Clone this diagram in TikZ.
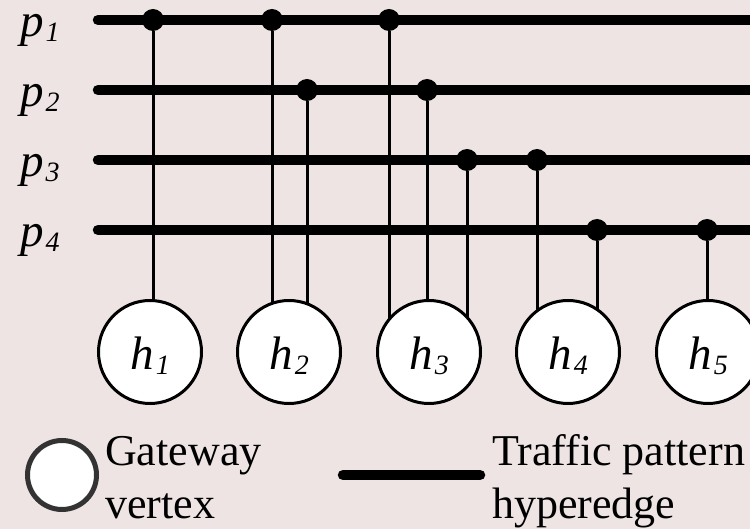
\documentclass[tikz,border=0pt]{standalone}
\usepackage{fontspec}
\setmainfont{Liberation Serif}
\definecolor{bg}{RGB}{238,228,228}
\definecolor{ringgray}{RGB}{51,51,51}
\newcommand\symlab[2]{{\fontsize{47}{47}\selectfont\itshape #1\kern2pt\raisebox{-5pt}{\fontsize{28}{28}\selectfont #2}}}
\begin{document}
\begin{tikzpicture}[x=1pt,y=-1pt,
  hyper/.style={line width=10.5pt, line cap=round},
  wire/.style={line width=3pt},
  joint/.style={circle, fill=black, inner sep=0pt, minimum size=22pt},
  hub/.style={circle, draw=black, line width=3pt, fill=white, minimum size=103pt, inner sep=0pt, text height=40pt, text depth=4pt},
  plab/.style={anchor=base west, inner sep=0pt},
  legtext/.style={anchor=base west, inner sep=0pt, font=\fontsize{44}{53}\selectfont}]
\fill[bg] (0,0) rectangle (750,529);
\useasboundingbox (0,0) rectangle (750,529);
\clip (0,0) rectangle (750,529);
% labels
\node[plab] (p1) at (20,37) {\symlab{p}{1}};
\node[plab] (p2) at (20,107) {\symlab{p}{2}};
\node[plab] (p3) at (20,177) {\symlab{p}{3}};
\node[plab] (p4) at (20,247) {\symlab{p}{4}};
% hyperedges
\foreach \i/\y in {1/20,2/90,3/160,4/230}{
  \coordinate (s\i) at (98,\y);
  \coordinate (e\i) at (765,\y);
  \draw[hyper] (s\i) -- (e\i);
}
% joints
\node[joint] (d11) at (153,20) {};
\node[joint] (d12) at (272,20) {};
\node[joint] (d13) at (389,20) {};
\node[joint] (d21) at (307,90) {};
\node[joint] (d22) at (427,90) {};
\node[joint] (d31) at (467,160) {};
\node[joint] (d32) at (537,160) {};
\node[joint] (d41) at (597,230) {};
\node[joint] (d42) at (707,230) {};
% hub centres
\coordinate (c1) at (150,352);
\coordinate (c2) at (289,352);
\coordinate (c3) at (429,352);
\coordinate (c4) at (568,352);
\coordinate (c5) at (708,352);
% wires
\draw[wire] (d11) -- (d11 |- c1);
\draw[wire] (d12) -- (d12 |- c2);
\draw[wire] (d21) -- (d21 |- c2);
\draw[wire] (d13) -- (d13 |- c3);
\draw[wire] (d22) -- (d22 |- c3);
\draw[wire] (d31) -- (d31 |- c3);
\draw[wire] (d32) -- (d32 |- c4);
\draw[wire] (d41) -- (d41 |- c4);
\draw[wire] (d42) -- (d42 |- c5);
% hubs
\node[hub] (h1) at (c1) {\symlab{h}{1}};
\node[hub] (h2) at (c2) {\symlab{h}{2}};
\node[hub] (h3) at (c3) {\symlab{h}{3}};
\node[hub] (h4) at (c4) {\symlab{h}{4}};
\node[hub] (h5) at (c5) {\symlab{h}{5}};
% legend
\node[circle, draw=ringgray, line width=5pt, fill=white, minimum size=69pt, inner sep=0pt] (lg) at (62,475) {};
\node[legtext] (g1) at (105,465) {Gateway};
\node[legtext] (g2) at (105,518) {vertex};
\coordinate (la) at (343,475);
\coordinate (lb) at (480,475);
\draw[hyper] (la) -- (lb);
\node[legtext] (t1) at (492,465) {Traffic pattern};
\node[legtext] (t2) at (492,518) {hyperedge};
\end{tikzpicture}
\end{document}
